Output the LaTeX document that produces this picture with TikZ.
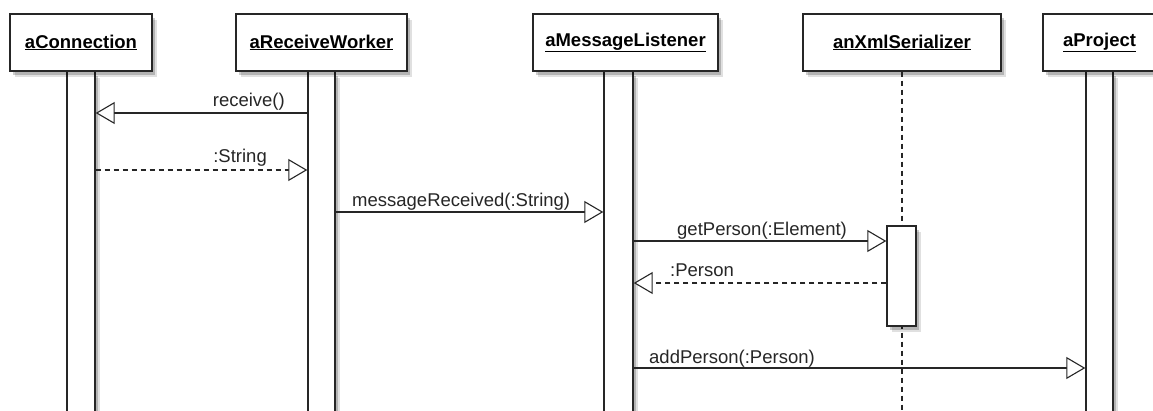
\documentclass[tikz,border=0pt]{standalone}
\usepackage{fontspec}
\setmainfont{Liberation Sans}
\usetikzlibrary{shapes,arrows.meta,shadows}
\begin{document}
\begin{tikzpicture}[x=1pt,y=-1pt]
    \tikzstyle{shade}=[general shadow={shadow xshift=5pt,shadow yshift=-6pt,fill=black,opacity=0.12},general shadow={shadow xshift=3pt,shadow yshift=-4pt,fill=black,opacity=0.2}]
    \tikzstyle{obj}=[rectangle,draw=black!85,line width=1.4pt,fill=white,inner sep=0pt,minimum height=57pt,font=\fontsize{18.5}{20}\selectfont\bfseries,shade]
    \tikzstyle{bar}=[rectangle,draw=black!85,line width=1.4pt,fill=white,inner sep=0pt,anchor=north,minimum height=360pt,shade]
    \tikzstyle{msg}=[line width=1.1pt,draw=black!85,-{Triangle[length=19pt,width=22pt,fill=white]}]
    \tikzstyle{reply}=[msg,dash pattern=on 5pt off 4pt]
    \tikzstyle{lbl}=[inner sep=0pt,text=black!85,font=\fontsize{18.5}{20}\selectfont]
    \useasboundingbox[fill=white] (0,0) rectangle (1153,410);
    \coordinate (bottom) at (0,420);
    \node[bar,minimum width=28pt] (connbar) at (81,71) {};
    \node[bar,minimum width=27pt] (workbar) at (321.5,71) {};
    \node[bar,minimum width=29pt] (lstnbar) at (618.5,71) {};
    \node[bar,minimum width=27pt] (projbar) at (1099.5,71) {};
    \node[obj,minimum width=142pt] (conn) at (81,42.5) {\underline{aConnection}};
    \node[obj,minimum width=171pt] (work) at (321.5,42.5) {\underline{aReceiveWorker}};
    \node[obj,minimum width=185pt] (lstn) at (625.5,42.5) {\underline{aMessageListener}};
    \node[obj,minimum width=198pt] (ser) at (902,42.5) {\underline{anXmlSerializer}};
    \node[obj,minimum width=113pt] (proj) at (1099.5,42.5) {\underline{aProject}};
    \draw[line width=1.1pt,draw=black!85,dash pattern=on 5pt off 4pt] (ser.south) -- (ser.south |- bottom);
    \node[bar,anchor=center,minimum width=29pt,minimum height=100pt] (serbar) at (901.5,276) {};
    \coordinate (m1) at (0,113);
    \coordinate (m2) at (0,170);
    \coordinate (m3) at (0,212);
    \coordinate (m4) at (0,241);
    \coordinate (m5) at (0,283);
    \coordinate (m6) at (0,368);
    \draw[msg] (workbar.west |- m1) -- (connbar.east |- m1);
    \draw[reply] (connbar.east |- m2) -- (workbar.west |- m2);
    \draw[msg] (workbar.east |- m3) -- (lstnbar.west |- m3);
    \draw[msg] (lstnbar.east |- m4) -- (serbar.west |- m4);
    \draw[reply] (serbar.west |- m5) -- (lstnbar.east |- m5);
    \draw[msg] (lstnbar.east |- m6) -- (projbar.west |- m6);
    \node[lbl,anchor=base east] (l1) at (285,106) {receive()};
    \node[lbl,anchor=base east] (l2) at (267,162) {:String};
    \node[lbl,anchor=base west] (l3) at (352,206) {messageReceived(:String)};
    \node[lbl,anchor=base west] (l4) at (677,235) {getPerson(:Element)};
    \node[lbl,anchor=base west] (l5) at (670,276) {:Person};
    \node[lbl,anchor=base west] (l6) at (649,363) {addPerson(:Person)};
  \end{tikzpicture}
\end{document}
